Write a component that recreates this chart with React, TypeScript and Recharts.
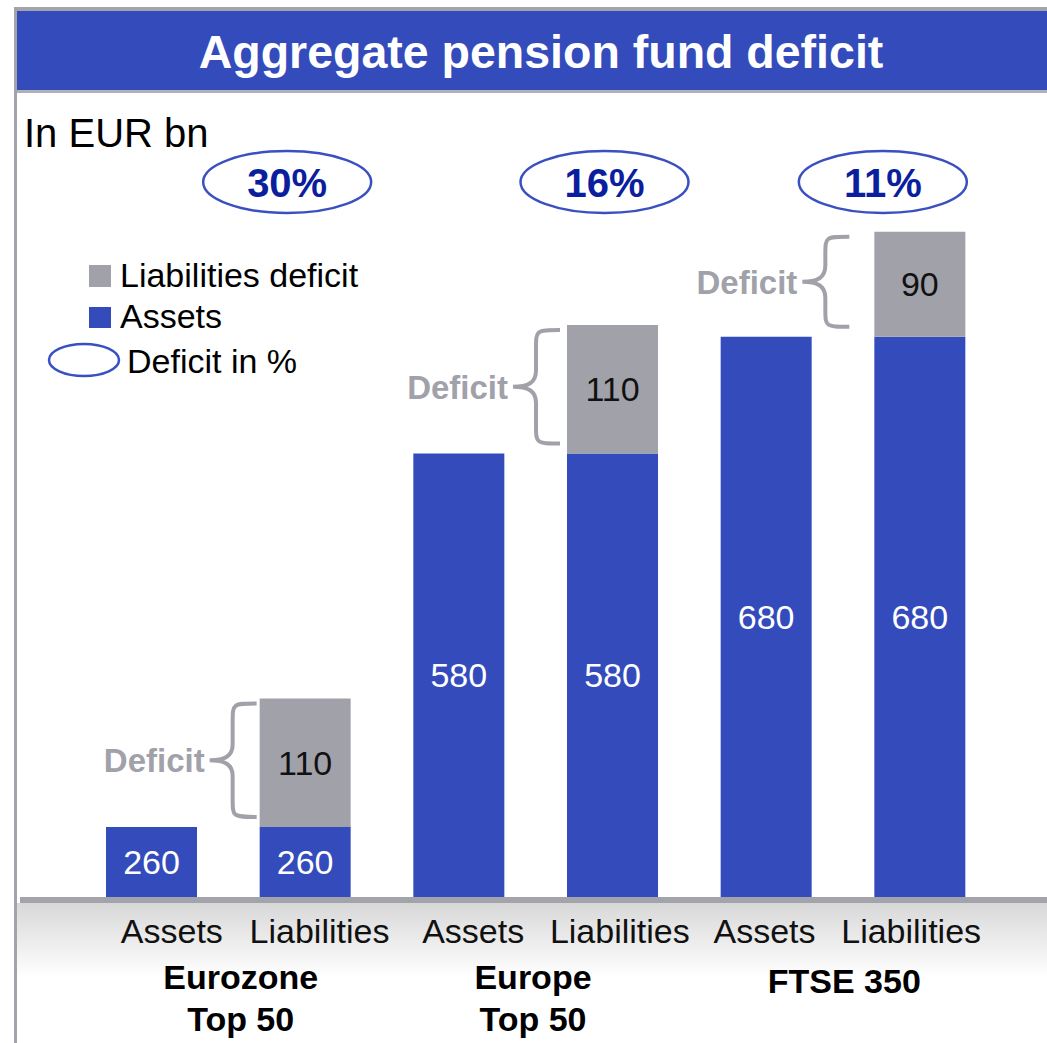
import React from 'react'
import { BarChart, Bar, XAxis, YAxis, LabelList } from 'recharts'

// values in EUR bn
const CATEGORIES = ['Assets', 'Liabilities', 'Assets', 'Liabilities', 'Assets', 'Liabilities']
const ASSETS = [260, 260, 580, 580, 680, 680]
const DEFICIT: (number | null)[] = [null, 110, null, 110, null, 90]
const GROUPS = [['Eurozone', 'Top 50'], ['Europe', 'Top 50'], ['FTSE 350']]
const DEFICIT_PCT = ['30%', '16%', '11%']

const data = CATEGORIES.map((name, i) => ({ name, assets: ASSETS[i], deficit: DEFICIT[i] }))

// layout
const W = 1047
const H = 1043
const MARGIN = { top: 80, right: 50, bottom: 0, left: 75 }
const AXIS_H = 146
const PLOT_BOTTOM = H - MARGIN.bottom - AXIS_H
const BAND = (W - MARGIN.left - MARGIN.right) / CATEGORIES.length
const PCT_Y = 182
const PCT_DX = [-18, -8, -37] // ellipse offset from liabilities bar centre
const BRACE_DX = [-3, -7, -25] // brace end offset from liabilities bar left
const GROUP_DX = [12, -3, 1]
const TICK_DX = [20, 14, 14, 7, -2, -9]

const FONT = '"Liberation Sans", Arial, Helvetica, sans-serif'
const BLUE = '#344cbb'
const GRAY = '#a1a1aa'
const FRAME = '#a3a3ab'
const PCT_TEXT = '#0b1f9e'

function box(vb: any) {
  const top = Math.min(vb.y, vb.y + vb.height)
  const bottom = Math.min(Math.max(vb.y, vb.y + vb.height), PLOT_BOTTOM)
  return { x: vb.x, w: vb.width, top, bottom, mid: (top + bottom) / 2 }
}

const AssetsLabel = (props: any) => {
  const b = box(props.viewBox)
  return (
    <text x={b.x + b.w / 2} y={b.mid + 12} textAnchor="middle" fill="#fff" fontSize={34} fontFamily={FONT}>
      {props.value}
    </text>
  )
}

const DeficitLabel = (props: any) => {
  if (props.value == null) return null
  const b = box(props.viewBox)
  const g = Math.floor((b.x + b.w / 2 - MARGIN.left) / (2 * BAND))
  const end = b.x + BRACE_DX[g]
  const spine = end - 24
  const tip = end - 47
  const t = b.top + 5
  const bt = b.bottom - 10
  const m = (t + bt) / 2
  const brace = `M ${end} ${t} C ${spine} ${t} ${spine} ${t} ${spine} ${t + 18} L ${spine} ${m - 16}
    C ${spine} ${m - 4} ${spine - 8} ${m} ${tip} ${m} C ${spine - 8} ${m} ${spine} ${m + 4} ${spine} ${m + 16}
    L ${spine} ${bt - 18} C ${spine} ${bt} ${spine} ${bt} ${end} ${bt}`
  const cx = b.x + b.w / 2 + PCT_DX[g]
  return (
    <g fontFamily={FONT}>
      <text x={b.x + b.w / 2} y={b.mid + 12} textAnchor="middle" fill="#111" fontSize={34}>
        {props.value}
      </text>
      <path d={brace} fill="none" stroke={GRAY} strokeWidth={4} />
      <text x={tip - 5} y={m + 12} textAnchor="end" fill={GRAY} fontSize={33} fontWeight="bold">
        Deficit
      </text>
      <ellipse cx={cx} cy={PCT_Y} rx={84} ry={31} fill="#fff" stroke="#3a50c0" strokeWidth={2.5} />
      <text x={cx} y={PCT_Y + 15} textAnchor="middle" fill={PCT_TEXT} fontSize={40} fontWeight="bold">
        {DEFICIT_PCT[g]}
      </text>
    </g>
  )
}

const CategoryTick = (props: any) => {
  const { x, y, payload } = props
  const i = payload.index
  const lines = i % 2 === 0 ? GROUPS[i / 2] : null
  const gx = x + BAND / 2 + (lines ? GROUP_DX[i / 2] : 0)
  return (
    <g fontFamily={FONT} fontSize={34}>
      <text x={x + TICK_DX[i]} y={y + 46} textAnchor="middle" fill="#111">
        {payload.value}
      </text>
      {lines &&
        lines.map((l, k) => (
          <text
            key={k}
            x={gx}
            y={y + (lines.length === 1 ? 96 : 92 + k * 42)}
            textAnchor="middle"
            fontWeight="bold"
            fill="#000"
          >
            {l}
          </text>
        ))}
    </g>
  )
}

function Backdrop() {
  return (
    <svg width={W} height={H} style={{ position: 'absolute', left: 0, top: 0 }} fontFamily={FONT}>
      <defs>
        <linearGradient id="floor" x1="0" y1="0" x2="0" y2="1">
          <stop offset="0" stopColor="#d8d8d8" />
          <stop offset="1" stopColor="#ffffff" />
        </linearGradient>
      </defs>
      <rect x={14} y={7} width={W} height={4} fill={FRAME} />
      <rect x={14} y={7} width={3} height={H} fill={FRAME} />
      <rect x={17} y={11} width={W} height={79} fill={BLUE} />
      <rect x={17} y={90} width={W} height={3} fill="#b0b0b8" />
      <text x={541} y={68} textAnchor="middle" fill="#fff" fontSize={46.5} fontWeight="bold">
        Aggregate pension fund deficit
      </text>
      <text x={24} y={147} fill="#000" fontSize={40}>
        In EUR bn
      </text>

      <rect x={89} y={265} width={22} height={22} fill={GRAY} />
      <text x={120} y={287} fontSize={34} fill="#000">Liabilities deficit</text>
      <rect x={89} y={307} width={22} height={21} fill={BLUE} />
      <text x={120} y={328} fontSize={34} fill="#000">Assets</text>
      <ellipse cx={84} cy={360} rx={35} ry={16} fill="none" stroke="#3a50c0" strokeWidth={2.5} />
      <text x={127} y={373} fontSize={34} fill="#000">Deficit in %</text>

      <rect x={17} y={PLOT_BOTTOM + 6} width={W} height={75} fill="url(#floor)" />
      <rect x={20} y={PLOT_BOTTOM} width={W} height={6} fill={FRAME} />
    </svg>
  )
}

export default function App() {
  return (
    <div style={{ position: 'absolute', left: 0, top: 0, width: W, height: H, overflow: 'hidden', background: '#fff' }}>
      <Backdrop />
      <div style={{ position: 'absolute', left: 0, top: 0 }}>
        <BarChart width={W} height={H} data={data} margin={MARGIN}>
          <XAxis
            dataKey="name"
            height={AXIS_H}
            axisLine={false}
            tickLine={false}
            tickSize={0}
            tickMargin={0}
            interval={0}
            tick={<CategoryTick />}
          />
          <YAxis hide type="number" domain={[200, 900]} allowDataOverflow />
          <Bar dataKey="assets" stackId="a" fill={BLUE} barSize={91} isAnimationActive={false}>
            <LabelList dataKey="assets" content={<AssetsLabel />} />
          </Bar>
          <Bar dataKey="deficit" stackId="a" fill={GRAY} barSize={91} isAnimationActive={false}>
            <LabelList dataKey="deficit" content={<DeficitLabel />} />
          </Bar>
        </BarChart>
      </div>
    </div>
  )
}
